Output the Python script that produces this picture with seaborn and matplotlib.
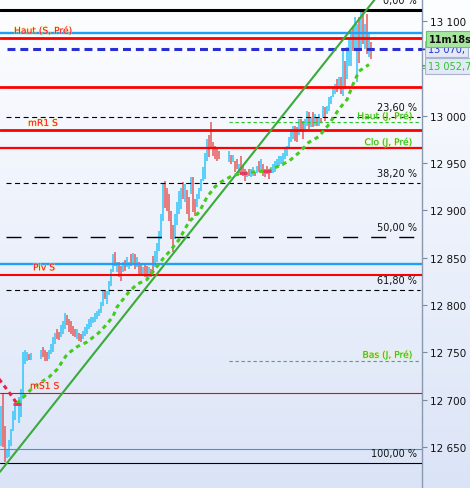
import numpy as np
import pandas as pd
import matplotlib
matplotlib.use("Agg")
import matplotlib.pyplot as plt
import matplotlib.patheffects as pe
from matplotlib.colors import LinearSegmentedColormap
import seaborn as sns

# ---- price bars (one per bar index, None = no quote) ----
highs = [
    12693, 12706, 12672, 12648, 12658, 12669, 12688, 12695, 12697, 12703,
    12711, 12751, 12753, 12750, 12748, 12749, None, None, None, None,
    12753, 12756, 12753, 12751, 12753, 12759, 12766, 12771, 12775, 12772,
    12779, 12783, 12792, 12790, 12785, 12783, 12778, 12775, 12775, 12771,
    12769, 12773, 12777, 12780, 12785, 12787, 12787, 12792, 12794, 12796,
    12803, 12815, 12815, 12815, 12825, 12838, 12854, 12856, 12845, 12846,
    12841, 12845, 12848, 12851, 12845, 12854, 12855, 12854, 12851, 12845,
    12843, 12840, 12843, 12841, 12840, 12838, 12852, 12857, 12866, 12878,
    12896, 12928, 12931, 12924, 12917, 12899, 12885, 12896, 12909, 12920,
    12924, 12930, 12928, 12922, 12914, 12935, 12935, 12912, 12917, 12924,
    12933, 12946, 12961, 12975, 12980, 12993, 12972, 12968, 12965, 12963,
    None, None, None, None, 12963, 12959, 12959, 12952, 12954, 12949,
    12957, 12947, 12944, 12941, 12944, 12944, 12946, 12941, 12947, 12952,
    12954, 12949, 12944, 12947, 12944, 12946, 12949, 12952, 12954, 12957,
    12957, 12961, 12965, 12968, 12977, 12986, 12989, 12989, 12988, 12996,
    12996, 12994, 12996, 13005, 13004, 12999, 13004, 13002, 12999, 13002,
    12998, 13010, 13009, 13010, 13020, 13021, 13031, 13033, 13039, 13041,
    13041, 13070, 13058, 13073, 13081, 13089, 13095, 13104, 13097, 13104,
    13109, 13109, 13097, 13107, 13086, 13078,
]
lows = [
    12651, 12650, 12634, 12639, 12640, 12651, 12667, 12679, 12694, 12676,
    12682, 12701, 12738, 12741, 12742, 12742, None, None, None, None,
    12743, 12745, 12741, 12741, 12743, 12748, 12751, 12759, 12764, 12763,
    12766, 12769, 12775, 12779, 12772, 12770, 12767, 12766, 12764, 12762,
    12761, 12764, 12767, 12769, 12775, 12777, 12781, 12782, 12785, 12788,
    12792, 12799, 12806, 12801, 12811, 12820, 12835, 12841, 12835, 12830,
    12825, 12835, 12836, 12840, 12838, 12841, 12843, 12838, 12840, 12833,
    12833, 12833, 12830, 12829, 12830, 12830, 12836, 12840, 12846, 12857,
    12870, 12889, 12903, 12899, 12889, 12870, 12856, 12870, 12885, 12896,
    12901, 12912, 12909, 12896, 12889, 12917, 12898, 12894, 12904, 12912,
    12920, 12931, 12933, 12952, 12956, 12965, 12957, 12954, 12952, 12954,
    None, None, None, None, 12951, 12949, 12951, 12941, 12944, 12940,
    12938, 12936, 12931, 12935, 12936, 12935, 12936, 12936, 12940, 12941,
    12941, 12936, 12935, 12938, 12933, 12940, 12940, 12941, 12946, 12947,
    12949, 12947, 12954, 12957, 12965, 12972, 12975, 12973, 12972, 12980,
    12983, 12975, 12986, 12989, 12986, 12988, 12988, 12989, 12989, 12989,
    12993, 12998, 12994, 13002, 13005, 13012, 13020, 13023, 13025, 13028,
    13023, 13021, 13028, 13039, 13052, 13052, 13068, 13070, 13036, 13056,
    13068, 13076, 13070, 13065, 13062, 13060,
]
# B = up bar, R = down bar, . = gap
bar_dirs = ("BRRBBBBBRB" "BBBBRB...." "BRRRBBBBRR" "BBBRRRRRBR" "RBBBBBBBBB"
            "BBRBBBBRBR" "RBRBBRBRBR" "RBRRBRRBBB" "BBRRRRRBBB" "BRBRRBRRBB"
            "BBBBRRRRRR" "....BRBRRB" "RRRBRBBRBR" "BRRRRBBBBB" "BBBBBBBRRB"
            "RRBBRBRBRB" "RBRBBBBBRB" "RBRBBBRBBR" "BRBRBR")

# ---- supertrend ----
st_up_idx = [8, 16, 24, 28, 33, 38, 43, 49, 53, 56, 58, 61, 64, 68, 71, 73, 81, 84,
             89, 94, 99, 103, 107, 110, 116, 123, 129, 134, 139, 144, 149, 154,
             159, 164, 169, 173, 176, 179, 184]
st_up_val = [12696, 12713, 12724, 12732, 12748, 12756, 12761, 12771, 12780, 12788,
             12798, 12806, 12814, 12822, 12825, 12827, 12849, 12856, 12869, 12888,
             12898, 12914, 12925, 12930, 12937, 12940, 12941, 12942, 12947, 12952,
             12961, 12972, 12978, 12991, 13007, 13017, 13033, 13047, 13054]
st_dn_idx = [-1, 4, 8]
st_dn_val = [12722, 12708, 12696]
flip_idx = [8, 121, 133]
flip_val = [12696, 12940, 12942]

# ---- trend line anchors ----
trend_idx = [-0.5, 187]
trend_val = [12624, 13123]

# ---- levels ----
fib_high, fib_low = 13111.5, 12633
fib_ratios = [0.0, 23.6, 38.2, 50.0, 61.8, 100.0]
fib_labels = ["0,00 %", "23,60 %", "38,20 %", "50,00 %", "61,80 %", "100,00 %"]
red_levels = [13082, 13030.6, 12984.6, 12965.5, 12832, 12707]
red_labels = ["Haut (S, Pré)", "", "mR1 S", "", "Piv S", "mS1 S"]
blue_levels = [13087, 12843.7, 12647.8]
green_levels = [12993, 12965.5, 12741]
green_labels = ["Haut (J, Pré)", "Clo (J, Pré)", "Bas (J, Pré)"]
last_price = 13070
st_last = 13052.7
timer = "11m18s"
yticks = list(range(12650, 13101, 50))

sns.set_theme(style="white")
plt.rcParams["font.family"] = ["DejaVu Sans"]

fig = plt.figure(figsize=(4.7, 4.89), dpi=100)
bg = fig.add_axes([0, 0, 1, 1], zorder=-5)
cmap = LinearSegmentedColormap.from_list("bg", ["#fdfeff", "#dbe4f7"])
bg.imshow(np.linspace(0, 1, 256).reshape(-1, 1), aspect="auto", cmap=cmap,
          extent=[0, 1, 0, 1])
bg.axis("off")

ax = fig.add_axes([0, 0, 422 / 470, 1])
ax.patch.set_alpha(0)

bars = pd.DataFrame({"high": highs, "low": lows, "dir": list(bar_dirs)}, dtype=object)
bars["idx"] = np.arange(len(bars))
bars = bars[bars["dir"] != "."]
for d, col in [("B", "#30c6fa"), ("R", "#e45a5a")]:
    sub = bars[bars["dir"] == d]
    ax.vlines(sub["idx"], sub["low"].astype(float), sub["high"].astype(float),
              colors=col, linewidth=1.1, zorder=2)

# horizontal levels
red_lw = [2.0, 2.0, 2.0, 1.6, 1.5, 0.8]
for v, lw in zip(red_levels, red_lw):
    ax.axhline(v, color="#ff0000", lw=lw, zorder=3)
for v, lw in zip(blue_levels, [1.7, 1.7, 0.8]):
    ax.axhline(v, color="#1ea0f8", lw=lw, zorder=3)
ax.hlines([green_levels[0], green_levels[2]], 114, 209.5, color="#2cc42c", lw=0.8,
          linestyle=(0, (3, 2.4)), zorder=3)

fib_vals = [fib_high - r / 100 * (fib_high - fib_low) for r in fib_ratios]
for r, v in zip(fib_ratios, fib_vals):
    if r == 0.0:
        ax.axhline(v, color="black", lw=2.2, zorder=3)
    elif r == 100.0:
        ax.axhline(v, color="black", lw=0.8, zorder=3)
    elif r == 50.0:
        ax.hlines(v, 2.5, 209.5, color="black", lw=1.0, linestyle=(0, (10.8, 9.4)), zorder=3)
    else:
        ax.hlines(v, 2.5, 209.5, color="black", lw=0.8, linestyle=(0, (4.5, 3.2)), zorder=3)

ax.hlines(last_price, 3, 210.5, color="#2a30d0", lw=2.2, linestyle=(0, (2.6, 1.6)), zorder=4)

# trend line and supertrend
ax.axline((trend_idx[0], trend_val[0]), (trend_idx[1], trend_val[1]),
          color="#3aaa3a", lw=1.5, zorder=5)
sns.lineplot(x=st_up_idx, y=st_up_val, ax=ax, color="#44cc1c", lw=2.2,
             linestyle=(0, (1.4, 1.3)), zorder=6)
sns.lineplot(x=st_dn_idx, y=st_dn_val, ax=ax, color="#e8204a", lw=2.2,
             linestyle=(0, (1.4, 1.3)), zorder=6)
ax.scatter(flip_idx, flip_val, marker="_", s=40, color="#f03060", lw=2, zorder=7)

# labels
halo = [pe.withStroke(linewidth=1.2, foreground="#f4ec70", alpha=0.45)]
red_x = {"Haut (S, Pré)": 6.5, "mR1 S": 13.5, "Piv S": 16, "mS1 S": 14.5}
for v, lab in zip(red_levels, red_labels):
    if lab:
        ax.annotate(lab, (red_x[lab], v), xytext=(0, 5), textcoords="offset points",
                    ha="left", va="center", fontsize=6.6, color="#ff1030",
                    path_effects=halo, zorder=8)
for v, lab in zip(green_levels, green_labels):
    ax.annotate(lab, (205.5, v), xytext=(0, 4.3), textcoords="offset points",
                ha="right", va="center", fontsize=6.6, color="#1cc01c",
                path_effects=halo, zorder=8)
for v, lab in zip(fib_vals, fib_labels):
    ax.annotate(lab, (208, v), xytext=(0, 7.2), textcoords="offset points",
                ha="right", va="center", fontsize=7, color="#111111", zorder=8)

ax.set_xlim(-0.5, 210.5)
ax.set_ylim(12606.9, 13123.2)
ax.set_xticks([])
ax.yaxis.tick_right()
ax.set_yticks(yticks)
ax.set_yticklabels([f"{t:,}".replace(",", " ") for t in yticks])
ax.tick_params(axis="y", direction="out", length=3.6, width=0.8, color="#7a88a0",
               pad=2.5, labelsize=7.5, labelcolor="#111111")
for s in ["left", "top", "bottom"]:
    ax.spines[s].set_visible(False)
ax.spines["right"].set_color("#8a98b0")
ax.spines["right"].set_linewidth(1.0)

# right axis price tags
for v, col in [(last_price, "#2a30d0"), (st_last, "#2cc42c")]:
    ax.annotate("", xy=(423 / 470, v), xytext=(428 / 470, v),
                xycoords=("figure fraction", "data"), textcoords=("figure fraction", "data"),
                arrowprops=dict(arrowstyle="-", color=col, lw=1.2), annotation_clip=False)
ax.annotate(f"{st_last:,.1f}".replace(",", " ").replace(".", ","), (428 / 470, st_last),
            xycoords=("figure fraction", "data"), ha="left", va="center", fontsize=7,
            color="#2cc42c", annotation_clip=False, zorder=10,
            bbox=dict(boxstyle="square,pad=0.3", fc="#e3e9f6", ec="#a8b4d0", lw=0.8))
ax.annotate(f"{last_price:,}".replace(",", " ") + ",", (428 / 470, last_price),
            xycoords=("figure fraction", "data"), ha="left", va="center", fontsize=7,
            color="#2a30d0", annotation_clip=False, zorder=10,
            bbox=dict(boxstyle="square,pad=0.3", fc="#e3e9f6", ec="#a8b4d0", lw=0.8))
ax.annotate(timer, (429 / 470, last_price), xytext=(0, 7.5), textcoords="offset points",
            xycoords=("figure fraction", "data"), ha="left", va="center", fontsize=7,
            fontweight="bold", color="#111111", annotation_clip=False, zorder=11,
            bbox=dict(boxstyle="square,pad=0.3", fc="#a8e6a0", ec="#66c466", lw=0.8))

fig.savefig("out.png", dpi=100)
